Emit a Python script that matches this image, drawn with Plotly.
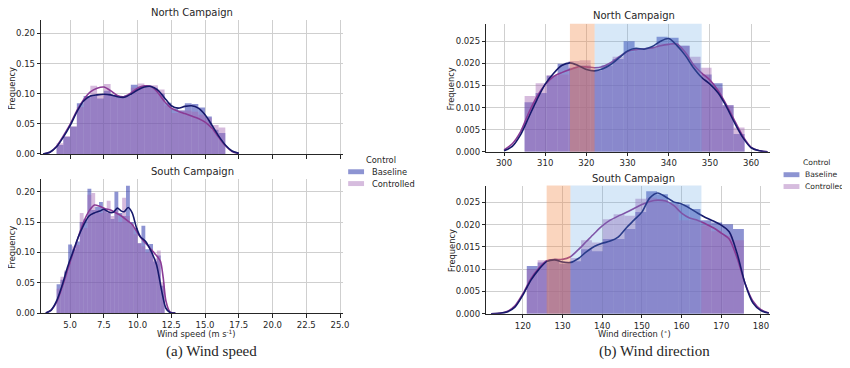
import plotly.graph_objects as go

# ---------------- data ----------------
# Wind speed histograms (density), bins described by first edge and width
north_speed_bin_start = 4.0
north_speed_bin_width = 0.5
north_speed_baseline = [0.015, 0.028, 0.045, 0.084, 0.096, 0.098, 0.092, 0.105, 0.098, 0.094,
                        0.097, 0.115, 0.112, 0.113, 0.110, 0.100, 0.085, 0.075, 0.072, 0.084,
                        0.083, 0.077, 0.062, 0.040, 0.035]
north_speed_controlled = [0.018, 0.030, 0.046, 0.078, 0.093, 0.113, 0.100, 0.116, 0.098, 0.094,
                          0.096, 0.110, 0.117, 0.113, 0.114, 0.107, 0.080, 0.068, 0.072, 0.072,
                          0.070, 0.065, 0.060, 0.048, 0.044]

south_speed_bin_start = 4.0
south_speed_bin_width = 0.2857
south_speed_baseline = [0.0475, 0.055, 0.068, 0.113, 0.105, 0.118, 0.150, 0.155, 0.205, 0.170,
                        0.175, 0.183, 0.170, 0.165, 0.155, 0.200, 0.165, 0.160, 0.210, 0.150,
                        0.140, 0.115, 0.144, 0.105, 0.114, 0.085, 0.095, 0.045]
south_speed_controlled = [0.040, 0.060, 0.070, 0.085, 0.110, 0.112, 0.165, 0.140, 0.195, 0.198,
                          0.170, 0.165, 0.172, 0.185, 0.160, 0.170, 0.150, 0.190, 0.160, 0.145,
                          0.130, 0.115, 0.110, 0.100, 0.105, 0.090, 0.103, 0.050]

# Wind direction histograms
north_dir_bin_start = 305.0
north_dir_bin_width = 2.67
north_dir_baseline = [0.0112, 0.0133, 0.0172, 0.0199, 0.0190, 0.0195, 0.0183, 0.0195, 0.0210, 0.0250,
                      0.0232, 0.0235, 0.0260, 0.0258, 0.0240, 0.0200, 0.0175, 0.0155, 0.0105, 0.0040]
north_dir_controlled = [0.0126, 0.0155, 0.0173, 0.0175, 0.0205, 0.0207, 0.0188, 0.0195, 0.0215, 0.0225,
                        0.0232, 0.0235, 0.0245, 0.0245, 0.0240, 0.0215, 0.0190, 0.0145, 0.0105, 0.0055]

south_dir_bin_start = 121.0
south_dir_bin_width = 2.735
south_dir_baseline = [0.0107, 0.0115, 0.0120, 0.0112, 0.0118, 0.0145, 0.0140, 0.0168, 0.0168, 0.0190,
                      0.0228, 0.0275, 0.0268, 0.0250, 0.0245, 0.0235, 0.0210, 0.0205, 0.0201, 0.0190]
south_dir_controlled = [0.0100, 0.0120, 0.0122, 0.0118, 0.0125, 0.0165, 0.0160, 0.0212, 0.0223, 0.0220,
                        0.0258, 0.0260, 0.0255, 0.0245, 0.0210, 0.0210, 0.0198, 0.0185, 0.0175, 0.0165]

# KDE curves
north_speed_kde_x = [3.0, 3.5, 4.0, 4.5, 5.0, 5.5, 6.0, 6.5, 7.0, 7.5, 8.0, 8.5, 9.0, 9.5, 10.0,
                     10.5, 11.0, 11.5, 12.0, 12.5, 13.0, 13.5, 14.0, 14.5, 15.0, 15.5, 16.0, 16.5,
                     17.0, 17.5]
north_speed_kde_baseline = [0.0, 0.003, 0.012, 0.028, 0.047, 0.070, 0.088, 0.096, 0.098, 0.099,
                            0.098, 0.095, 0.094, 0.099, 0.106, 0.111, 0.112, 0.106, 0.093, 0.080,
                            0.076, 0.079, 0.080, 0.076, 0.065, 0.048, 0.030, 0.015, 0.005, 0.001]
north_speed_kde_controlled = [0.0, 0.003, 0.013, 0.030, 0.049, 0.072, 0.090, 0.103, 0.109, 0.111,
                              0.105, 0.097, 0.095, 0.101, 0.109, 0.113, 0.112, 0.102, 0.087, 0.076,
                              0.071, 0.067, 0.063, 0.059, 0.053, 0.043, 0.028, 0.014, 0.004, 0.001]

south_speed_kde_x_baseline = [3.2, 3.6, 4.0, 4.4, 4.8, 5.2, 5.6, 6.0, 6.4, 6.8, 7.2, 7.5, 7.9, 8.2,
                              8.5, 8.8, 9.0, 9.3, 9.6, 9.9, 10.2, 10.6, 11.0, 11.4, 11.8, 12.1,
                              12.4, 12.8]
south_speed_kde_baseline = [0.0, 0.005, 0.020, 0.045, 0.075, 0.100, 0.125, 0.145, 0.160, 0.165,
                            0.168, 0.171, 0.166, 0.166, 0.173, 0.168, 0.167, 0.174, 0.165, 0.142,
                            0.126, 0.118, 0.102, 0.080, 0.035, 0.008, 0.001, 0.0]
south_speed_kde_x_controlled = [3.2, 3.6, 4.0, 4.4, 4.8, 5.2, 5.6, 6.0, 6.4, 6.8, 7.2, 7.6, 8.0,
                                8.4, 8.8, 9.2, 9.6, 10.0, 10.4, 10.8, 11.2, 11.5, 11.7, 11.9,
                                12.1, 12.4, 12.8]
south_speed_kde_controlled = [0.0, 0.005, 0.018, 0.042, 0.070, 0.098, 0.125, 0.150, 0.168, 0.178,
                              0.176, 0.172, 0.170, 0.165, 0.160, 0.153, 0.146, 0.132, 0.120, 0.110,
                              0.100, 0.092, 0.085, 0.058, 0.020, 0.002, 0.0]

north_dir_kde_x = [300, 302, 304, 306, 308, 310, 312, 314, 316, 318, 320, 322, 324, 326, 328, 330,
                   332, 334, 336, 338, 340, 342, 344, 346, 348, 350, 352, 354, 356, 358, 360, 362, 364]
north_dir_kde_baseline = [0.0002, 0.0012, 0.0038, 0.0078, 0.0118, 0.0153, 0.0177, 0.0195, 0.0201,
                          0.0195, 0.0186, 0.0183, 0.0188, 0.0198, 0.0213, 0.0228, 0.0234, 0.0232,
                          0.0238, 0.0250, 0.0256, 0.0240, 0.0218, 0.0190, 0.0168, 0.0153, 0.0133,
                          0.0102, 0.0065, 0.0032, 0.0009, 0.0002, 0.0]
north_dir_kde_controlled = [0.0004, 0.0018, 0.0045, 0.0088, 0.0125, 0.0152, 0.0170, 0.0179, 0.0186,
                            0.0192, 0.0192, 0.0190, 0.0193, 0.0202, 0.0215, 0.0227, 0.0231, 0.0233,
                            0.0235, 0.0240, 0.0243, 0.0244, 0.0225, 0.0197, 0.0178, 0.0162, 0.0138,
                            0.0106, 0.0070, 0.0035, 0.0010, 0.0002, 0.0]

south_dir_kde_x = [112, 114, 116, 118, 120, 122, 124, 126, 128, 130, 132, 134, 136, 138, 140, 142,
                   144, 146, 148, 150, 152, 154, 156, 158, 160, 162, 164, 166, 168, 170, 172, 174,
                   176, 178, 180, 182]
south_dir_kde_baseline = [0.0, 0.0001, 0.0004, 0.0015, 0.0042, 0.0075, 0.0099, 0.0117, 0.0121,
                          0.0116, 0.0115, 0.0124, 0.0139, 0.0151, 0.0158, 0.0163, 0.0172, 0.0192,
                          0.0210, 0.0228, 0.0260, 0.0271, 0.0262, 0.0251, 0.0246, 0.0237, 0.0226,
                          0.0216, 0.0208, 0.0199, 0.0184, 0.0135, 0.0068, 0.0024, 0.0007, 0.0001]
south_dir_kde_controlled = [0.0, 0.0001, 0.0005, 0.0018, 0.0045, 0.0078, 0.0102, 0.0119, 0.0122,
                            0.0122, 0.0128, 0.0144, 0.0162, 0.0180, 0.0197, 0.0210, 0.0219, 0.0227,
                            0.0236, 0.0245, 0.0252, 0.0255, 0.0253, 0.0243, 0.0226, 0.0215, 0.0210,
                            0.0202, 0.0193, 0.0181, 0.0168, 0.0125, 0.0068, 0.0028, 0.0009, 0.0002]

# shaded direction sectors
north_orange_band = [316, 322]
north_blue_band = [322, 348]
south_orange_band = [126, 132]
south_blue_band = [132, 165]

series_names = ["Baseline", "Controlled"]
legend_title = "Control"

# ---------------- styling ----------------
FONT = "DejaVu Sans"
TXT = "#262626"
BAR_BASE = "rgba(28,40,165,0.5)"
BAR_CTRL = "rgba(165,105,180,0.45)"
SWATCH_BASE = "rgb(141,148,210)"
SWATCH_CTRL = "rgb(214,188,222)"
LINE_BASE = "#16196b"
LINE_CTRL = "#8a3b95"
ORANGE = "rgba(240,135,69,0.35)"
BLUE = "rgba(96,164,228,0.25)"
GRID = "#cfcfcf"

fig = go.Figure()


def add_hist(start, width, vals, xa, ya, color, name):
    centers = [start + width * (i + 0.5) for i in range(len(vals))]
    fig.add_trace(go.Bar(
        x=centers, y=vals, width=[width] * len(vals), xaxis=xa, yaxis=ya,
        marker=dict(color=color, line=dict(width=0)), name=name,
        showlegend=False, hoverinfo="skip"))


def add_kde(xs, ys, xa, ya, color, name):
    fig.add_trace(go.Scatter(
        x=xs, y=ys, xaxis=xa, yaxis=ya, mode="lines", name=name,
        line=dict(color=color, width=1.6, shape="spline", smoothing=0.8),
        showlegend=False, hoverinfo="skip"))


# left: wind speed
add_hist(north_speed_bin_start, north_speed_bin_width, north_speed_baseline, "x", "y", BAR_BASE, series_names[0])
add_hist(north_speed_bin_start, north_speed_bin_width, north_speed_controlled, "x", "y", BAR_CTRL, series_names[1])
add_kde(north_speed_kde_x, north_speed_kde_controlled, "x", "y", LINE_CTRL, series_names[1])
add_kde(north_speed_kde_x, north_speed_kde_baseline, "x", "y", LINE_BASE, series_names[0])

add_hist(south_speed_bin_start, south_speed_bin_width, south_speed_baseline, "x2", "y2", BAR_BASE, series_names[0])
add_hist(south_speed_bin_start, south_speed_bin_width, south_speed_controlled, "x2", "y2", BAR_CTRL, series_names[1])
add_kde(south_speed_kde_x_controlled, south_speed_kde_controlled, "x2", "y2", LINE_CTRL, series_names[1])
add_kde(south_speed_kde_x_baseline, south_speed_kde_baseline, "x2", "y2", LINE_BASE, series_names[0])

# right: wind direction
add_hist(north_dir_bin_start, north_dir_bin_width, north_dir_baseline, "x3", "y3", BAR_BASE, series_names[0])
add_hist(north_dir_bin_start, north_dir_bin_width, north_dir_controlled, "x3", "y3", BAR_CTRL, series_names[1])
add_kde(north_dir_kde_x, north_dir_kde_controlled, "x3", "y3", LINE_CTRL, series_names[1])
add_kde(north_dir_kde_x, north_dir_kde_baseline, "x3", "y3", LINE_BASE, series_names[0])

add_hist(south_dir_bin_start, south_dir_bin_width, south_dir_baseline, "x4", "y4", BAR_BASE, series_names[0])
add_hist(south_dir_bin_start, south_dir_bin_width, south_dir_controlled, "x4", "y4", BAR_CTRL, series_names[1])
add_kde(south_dir_kde_x, south_dir_kde_controlled, "x4", "y4", LINE_CTRL, series_names[1])
add_kde(south_dir_kde_x, south_dir_kde_baseline, "x4", "y4", LINE_BASE, series_names[0])

W, H = 850, 368


def px(xp):
    return xp / W


def py(yp):
    return 1 - yp / H


# shaded bands
shapes = []
for band, col, xr, yr in [(north_orange_band, ORANGE, "x3", "y3 domain"),
                          (north_blue_band, BLUE, "x3", "y3 domain"),
                          (south_orange_band, ORANGE, "x4", "y4 domain"),
                          (south_blue_band, BLUE, "x4", "y4 domain")]:
    shapes.append(dict(type="rect", xref=xr, yref=yr, x0=band[0], x1=band[1], y0=0, y1=1,
                       fillcolor=col, line=dict(width=0), layer="above"))

ann = []


def text(xp, yp, s, size, angle=0, family=FONT, xanchor="center"):
    ann.append(dict(x=px(xp), y=py(yp), xref="paper", yref="paper", text=s, showarrow=False,
                    xanchor=xanchor, yanchor="middle", textangle=angle,
                    font=dict(family=family, size=size, color=TXT)))


# legends (one per figure half): swatches + labels
for (lx, ly, fsize, gap) in [(343, 154, 8.3, 22), (782, 157, 7.6, 20)]:
    text(lx + 33, ly, legend_title, fsize)
    for k, (nm, sw) in enumerate(zip(series_names, [SWATCH_BASE, SWATCH_CTRL])):
        yy = ly + 12 * (k + 1)
        shapes.append(dict(type="rect", xref="paper", yref="paper",
                           x0=px(lx), x1=px(lx + 16), y0=py(yy + 2.5), y1=py(yy - 2.5),
                           fillcolor=sw, line=dict(width=0), layer="above"))
        text(lx + gap, yy, nm, fsize, xanchor="left")


def axis_common(**kw):
    d = dict(showgrid=True, gridcolor=GRID, gridwidth=1, zeroline=False,
             showline=True, linecolor=TXT, linewidth=1.1, ticks="outside",
             ticklen=3.5, tickcolor=TXT, tickwidth=1,
             tickfont=dict(family=FONT, size=8.5, color=TXT))
    d.update(kw)
    return d


LX = [px(33.5), px(337.5)]
RX = [px(482.3), px(768)]

text(185.5, 4.5, "North Campaign", 10)
text(186, 165.5, "South Campaign", 10)
text(631.5, 8, "North Campaign", 10)
text(631, 172.5, "South Campaign", 10)
text(4, 81, "Frequency", 8.3, -90)
text(4, 242, "Frequency", 8.3, -90)
text(447, 82, "Frequency", 8.3, -90)
text(447, 246, "Frequency", 8.3, -90)
text(190, 330, "Wind speed (m s<sup>-1</sup>)", 8.3)
text(632, 330, "Wind direction (<sup>∘</sup>)", 8.3)
text(205, 348, "(a) Wind speed", 15, family="Liberation Serif")
text(652, 348, "(b) Wind direction", 15, family="Liberation Serif")

fig.update_layout(
    width=W, height=H, margin=dict(l=0, r=0, t=0, b=0),
    paper_bgcolor="white", plot_bgcolor="white", barmode="overlay", showlegend=False,
    font=dict(family=FONT, color=TXT),
    xaxis=axis_common(domain=LX, anchor="y", range=[2.86, 25.2], tick0=0, dtick=2.5,
                      showticklabels=False),
    yaxis=axis_common(domain=[py(148), py(12.3)], anchor="x", range=[0, 0.222], dtick=0.05,
                      tickformat=".2f"),
    xaxis2=axis_common(domain=LX, anchor="y2", range=[2.86, 25.2], tick0=0, dtick=2.5,
                       tickformat=".1f"),
    yaxis2=axis_common(domain=[py(309.3), py(173.3)], anchor="x2", range=[0, 0.221], dtick=0.05,
                       tickformat=".2f"),
    xaxis3=axis_common(domain=RX, anchor="y3", range=[295.7, 364.5], dtick=10),
    yaxis3=axis_common(domain=[py(145.7), py(16)], anchor="x3", range=[0, 0.02895], dtick=0.005,
                       tickformat=".3f"),
    xaxis4=axis_common(domain=RX, anchor="y4", range=[110.8, 182.2], dtick=10),
    yaxis4=axis_common(domain=[py(310), py(180)], anchor="x4", range=[0, 0.02876], dtick=0.005,
                       tickformat=".3f"),
    shapes=shapes,
    annotations=ann,
)
fig.write_html("out.html")
